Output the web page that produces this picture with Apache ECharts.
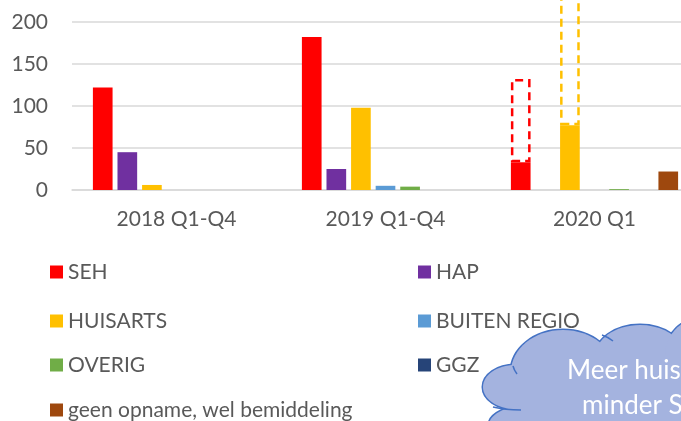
<!DOCTYPE html>
<html>
<head>
<meta charset="utf-8">
<script src="https://cdn.jsdelivr.net/npm/echarts@6/dist/echarts.min.js"></script>
<style>
  html, body { margin: 0; padding: 0; background: #fff; }
  #chart { width: 681px; height: 421px; }
</style>
</head>
<body>
<div id="chart"></div>
<script>
  // categorieen en aantallen per herkomst
  var categories = ['2018 Q1-Q4', '2019 Q1-Q4', '2020 Q1']
  var seh = [122, 182, 33]
  var hap = [45, 25, 0]
  var huisarts = [6, 98, 77]
  var buitenRegio = [0, 5, 0]
  var overig = [0, 4, 1]
  var ggz = [0, 0, 0]
  var geenOpname = [0, 0, 22]
  // geprojecteerd jaartotaal (Q1 x 4), gestippeld
  var sehJaar = [null, null, 132]
  var huisartsJaar = [null, null, 308]
  var yTicks = [0, 50, 100, 150, 200]

  var font = 'Lato'
  var textColor = '#595959'
  var cloudFill = '#a4b3df'
  var cloudLine = '#4472c4'

  function rest (jaar, actueel) {
    return jaar.map(function (v, i) { return v == null ? null : v - actueel[i] })
  }

  function bar (name, data, color, stack) {
    var s = {
      name: name,
      type: 'bar',
      data: data,
      barGap: '25%',
      barCategoryGap: '20%',
      itemStyle: { color: color },
      emphasis: { disabled: true }
    }
    if (stack) s.stack = stack
    return s
  }

  function dashed (name, data, color, stack) {
    var s = bar(name, data, 'transparent', stack)
    s.clip = false
    s.itemStyle = {
      color: 'transparent',
      borderColor: color,
      borderWidth: 2.5,
      borderType: [8, 5]
    }
    return s
  }

  // legenda: elk item apart geplaatst (twee kolommen)
  function legendItem (name, left, top) {
    return {
      orient: 'vertical',
      left: left,
      top: top,
      padding: 0,
      itemWidth: 13,
      itemHeight: 13,
      icon: 'rect',
      textStyle: { color: textColor, fontFamily: font, fontSize: 21, lineHeight: 22 },
      data: [name]
    }
  }

  function ellipse (cx, cy, rx, ry, withLine) {
    var style = { fill: cloudFill }
    if (withLine) {
      style.stroke = cloudLine
      style.lineWidth = 3
    }
    return { type: 'ellipse', shape: { cx: cx, cy: cy, rx: rx, ry: ry }, style: style }
  }

  var bumps = [
    [563, 372, 52, 42],
    [640, 357, 45, 32],
    [705, 355, 40, 38],
    [515, 387, 32, 22],
    [530, 425, 41, 20]
  ]

  var cloud = []
  bumps.forEach(function (b) { cloud.push(ellipse(b[0], b[1], b[2], b[3], true)) })
  bumps.forEach(function (b) { cloud.push(ellipse(b[0], b[1], b[2], b[3], false)) })
  cloud.push({ type: 'rect', shape: { x: 520, y: 355, width: 170, height: 80 }, style: { fill: cloudFill } })
  // binnenlijntjes van de wolk
  cloud.push({ type: 'bezierCurve', shape: { x1: 513, y1: 366, x2: 517, y2: 374, cpx1: 514, cpy1: 370 }, style: { stroke: cloudLine, lineWidth: 1.5, fill: null } })
  cloud.push({ type: 'bezierCurve', shape: { x1: 493, y1: 407, x2: 521, y2: 410, cpx1: 505, cpy1: 410 }, style: { stroke: cloudLine, lineWidth: 1.5, fill: null } })
  cloud.push({ type: 'bezierCurve', shape: { x1: 602, y1: 335, x2: 613, y2: 341, cpx1: 608, cpy1: 337 }, style: { stroke: cloudLine, lineWidth: 1.5, fill: null } })
  cloud.push({ type: 'text', x: 567, y: 358, style: { text: 'Meer huisarts,', fill: '#ffffff', font: '26px Lato' } })
  cloud.push({ type: 'text', x: 582, y: 393, style: { text: 'minder SEH', fill: '#ffffff', font: '26px Lato' } })

  var chart = echarts.init(document.getElementById('chart'))

  chart.setOption({
    animation: false,
    grid: { left: 72, top: 22, width: 627, height: 168, outerBoundsMode: 'none', containLabel: false },
    xAxis: {
      type: 'category',
      data: categories,
      axisTick: { show: false },
      axisLine: { lineStyle: { color: '#d9d9d9', width: 1.5 } },
      axisLabel: { color: textColor, fontFamily: font, fontSize: 21, margin: 19 }
    },
    yAxis: {
      type: 'value',
      min: yTicks[0],
      max: yTicks[yTicks.length - 1],
      interval: 50,
      axisLine: { show: false },
      axisTick: { show: false },
      splitLine: { lineStyle: { color: '#d9d9d9', width: 1.5 } },
      axisLabel: { color: textColor, fontFamily: font, fontSize: 21, margin: 24 }
    },
    legend: [
      legendItem('SEH', 50, 261),
      legendItem('HUISARTS', 50, 310),
      legendItem('OVERIG', 50, 354),
      legendItem('geen opname, wel bemiddeling', 50, 399),
      legendItem('HAP', 418, 261),
      legendItem('BUITEN REGIO', 418, 310),
      legendItem('GGZ', 418, 354)
    ],
    series: [
      bar('SEH', seh, '#ff0000', 'seh'),
      dashed('SEH jaar', rest(sehJaar, seh), '#ff0000', 'seh'),
      bar('HAP', hap, '#7030a0'),
      bar('HUISARTS', huisarts, '#ffc000', 'huisarts'),
      dashed('HUISARTS jaar', rest(huisartsJaar, huisarts), '#ffc000', 'huisarts'),
      bar('BUITEN REGIO', buitenRegio, '#5b9bd5'),
      bar('OVERIG', overig, '#70ad47'),
      bar('GGZ', ggz, '#264478'),
      bar('geen opname, wel bemiddeling', geenOpname, '#9e480e')
    ],
    graphic: [
      { type: 'group', z: 100, children: cloud }
    ]
  })
</script>
</body>
</html>
